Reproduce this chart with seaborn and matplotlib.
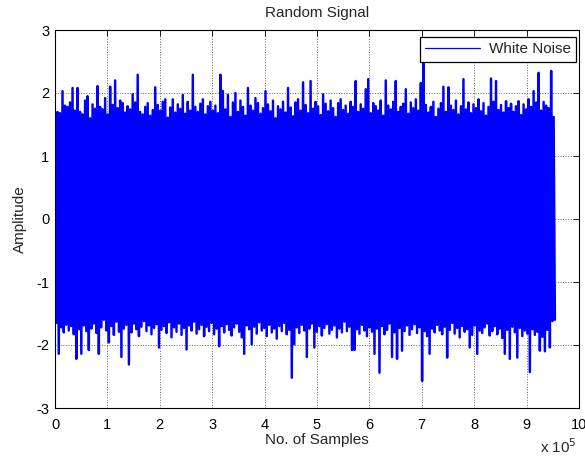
import numpy as np
import pandas as pd
import matplotlib
matplotlib.use('Agg')
import matplotlib.pyplot as plt
import seaborn as sns

# peak values, one upper / lower pair per ~2.5 px column
upper_peaks = [
    1.62, 1.70, 1.68, 2.03, 1.80, 1.78, 1.85, 2.08, 1.72, 2.08,
    1.70, 1.66, 1.88, 1.95, 1.60, 1.82, 1.75, 2.11, 1.78, 1.74,
    1.92, 1.66, 2.10, 1.81, 2.20, 1.76, 1.88, 1.84, 1.69, 1.79,
    1.74, 1.98, 1.85, 2.29, 1.70, 1.66, 1.78, 1.84, 1.64, 1.73,
    2.09, 1.81, 1.72, 1.86, 1.90, 1.61, 1.77, 1.90, 1.69, 1.82,
    1.75, 1.97, 1.67, 1.86, 1.72, 2.29, 1.78, 1.70, 1.83, 1.90,
    1.66, 1.79, 1.86, 1.72, 1.80, 1.68, 2.29, 2.03, 1.74, 1.97,
    1.62, 1.85, 2.00, 1.70, 1.88, 1.78, 1.64, 2.08, 1.80, 1.72,
    1.92, 1.84, 1.67, 1.76, 2.03, 1.82, 1.71, 1.88, 1.60, 1.79,
    1.74, 1.86, 1.69, 2.08, 1.77, 1.63, 1.85, 1.90, 1.72, 2.17,
    1.81, 1.68, 2.19, 1.75, 1.86, 1.79, 1.65, 1.98, 1.83, 1.71,
    1.88, 1.76, 1.62, 1.84, 1.90, 1.73, 1.80, 1.67, 1.86, 1.78,
    2.19, 1.70, 1.82, 1.75, 2.06, 2.22, 1.68, 1.84, 1.79, 1.72,
    1.88, 1.64, 2.20, 1.80, 1.74, 1.86, 2.19, 1.70, 1.78, 1.83,
    2.06, 1.67, 1.85, 1.76, 1.90, 1.72, 2.16, 2.47, 1.81, 1.69,
    1.78, 1.86, 1.62, 1.75, 1.84, 2.10, 1.70, 2.09, 1.80, 1.73,
    1.88, 1.66, 1.79, 2.22, 1.74, 1.85, 1.68, 1.82, 1.76, 1.90,
    1.71, 1.84, 1.64, 1.78, 2.23, 1.86, 2.19, 1.73, 1.81, 1.69,
    1.87, 1.76, 1.83, 1.70, 1.79, 1.87, 1.65, 1.82, 1.74, 1.90,
    1.78, 2.03, 1.85, 2.32, 1.72, 1.86, 1.80, 1.76, 2.35, 1.62,
]
lower_peaks = [
    -1.65, -2.14, -1.72, -1.80, -1.68, -1.77, -1.70, -1.83, -2.22, -1.75,
    -2.14, -1.69, -1.78, -2.08, -1.74, -1.66, -1.81, -2.14, -1.72, -1.60,
    -1.77, -1.96, -1.70, -1.84, -1.63, -1.79, -2.19, -1.74, -1.68, -2.31,
    -1.80, -1.66, -1.75, -1.86, -1.71, -1.62, -1.78, -1.69, -1.83, -1.73,
    -1.67, -2.04, -1.76, -1.70, -1.81, -1.64, -1.88, -1.72, -1.79, -1.66,
    -1.84, -1.73, -2.07, -1.69, -1.77, -1.63, -1.82, -1.75, -1.68, -1.86,
    -1.71, -1.78, -1.65, -1.83, -1.74, -2.02, -1.70, -1.80, -1.67, -1.76,
    -1.85, -1.72, -1.66, -1.79, -1.88, -2.14, -1.69, -1.75, -1.99, -1.71,
    -1.82, -1.64, -1.77, -1.73, -1.86, -1.68, -1.80, -1.74, -1.90, -1.70,
    -1.78, -1.65, -1.83, -1.76, -2.52, -1.99, -1.72, -1.81, -1.68, -1.77,
    -2.19, -1.74, -1.66, -2.04, -1.79, -1.70, -1.85, -1.73, -1.67, -1.82,
    -1.76, -1.69, -1.88, -1.74, -1.80, -1.63, -1.78, -1.71, -2.08, -2.08,
    -1.75, -1.82, -1.68, -1.77, -1.86, -1.72, -1.79, -2.14, -1.74, -2.44,
    -1.70, -1.83, -1.76, -1.66, -2.19, -1.80, -2.22, -1.73, -2.09, -1.78,
    -1.69, -1.84, -1.75, -1.67, -1.81, -1.72, -2.57, -1.78, -1.86, -2.14,
    -1.74, -1.80, -1.68, -1.77, -1.83, -1.71, -2.20, -1.76, -1.65, -1.82,
    -1.73, -1.88, -1.70, -1.79, -1.75, -2.04, -1.84, -1.69, -2.14, -1.77,
    -1.81, -1.72, -1.66, -1.85, -1.78, -1.70, -1.83, -1.74, -1.89, -2.14,
    -1.76, -2.22, -1.71, -1.80, -2.20, -1.73, -1.86, -1.77, -1.82, -2.43,
    -1.75, -1.84, -1.79, -2.09, -1.87, -2.10, -1.76, -2.04, -1.62, -1.60,
]
n_samples = 954000
x_tick_labels = ['0', '1', '2', '3', '4', '5', '6', '7', '8', '9', '10']
y_ticks = [-3, -2, -1, 0, 1, 2, 3]

sns.set_style('white')
plt.rcParams['font.family'] = ['Liberation Sans', 'DejaVu Sans']

# interleave the upper and lower peaks into one trace
amp = np.empty(2 * len(upper_peaks))
amp[0::2] = upper_peaks
amp[1::2] = lower_peaks
df = pd.DataFrame({'sample': np.linspace(0, n_samples, len(amp)), 'amp': amp})

fig = plt.figure(figsize=(5.85, 4.57), dpi=100)
ax = fig.add_axes([55 / 585, 49 / 457, 524 / 585, 378 / 457])

sns.lineplot(data=df, x='sample', y='amp', ax=ax, color='#0000ff', linewidth=1.75,
             estimator=None, sort=False, label='White Noise')

ax.set_xlim(0, 1e6)
ax.set_ylim(-3, 3)
ax.set_xticks(np.arange(0, 11) * 1e5)
ax.set_xticklabels(x_tick_labels)
ax.set_yticks(y_ticks)
ax.set_yticklabels([str(v) for v in y_ticks])
ax.tick_params(direction='in', length=4, width=0.6, top=True, right=True,
               labelsize=10.5, colors='black')
ax.tick_params(axis='x', pad=7)
ax.tick_params(axis='y', pad=4)
for sp in ax.spines.values():
    sp.set_color('black')
    sp.set_linewidth(0.8)
ax.set_axisbelow(True)
ax.grid(True, linestyle=':', color='0.4', linewidth=0.7)

ax.set_title('Random Signal', fontsize=11, pad=9)
ax.set_xlabel('No. of Samples', fontsize=11, labelpad=1)
ax.set_ylabel('Amplitude', fontsize=11, labelpad=7)
fig.text(577 / 585, 4 / 457, r'x 10$^{5}$', ha='right', va='baseline', fontsize=11)

leg = ax.legend(loc='upper right', bbox_to_anchor=(576 / 585, 420 / 457),
                bbox_transform=fig.transFigure, borderaxespad=0, fancybox=False,
                edgecolor='black', framealpha=1, handlelength=3.6,
                handletextpad=0.55, borderpad=0.35, fontsize=11)
leg.get_frame().set_linewidth(0.9)
leg.get_lines()[0].set_linewidth(0.9)

fig.savefig('out.png', dpi=100)
